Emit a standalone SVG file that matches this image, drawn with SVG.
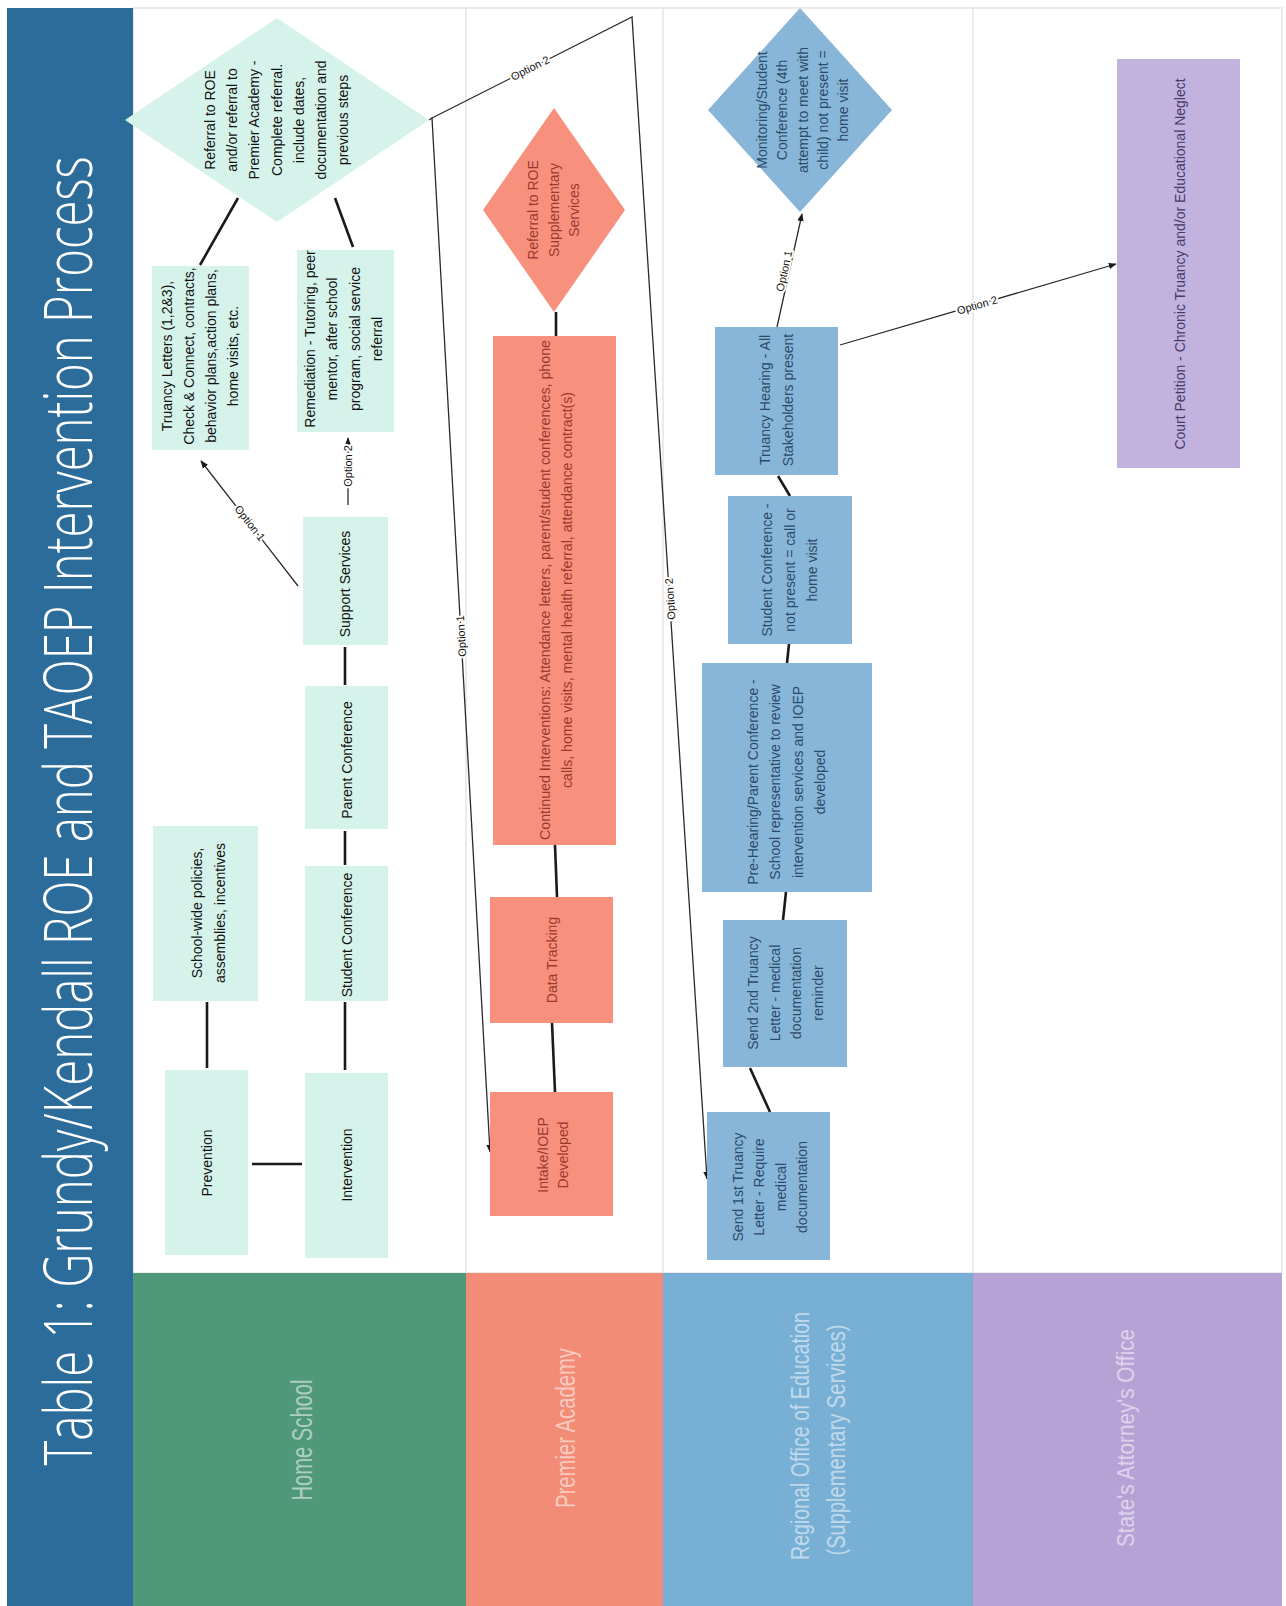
<svg xmlns="http://www.w3.org/2000/svg" width="1286" height="1606" viewBox="0 0 1286 1606">
<defs>
<style>
.t{font-family:"Liberation Sans",Arial,sans-serif;font-size:14px;text-anchor:middle}
.hs{fill:#111}
.pa{fill:#9a3a2e}
.roe{fill:#2c4b68}
.sa{fill:#463a66}
.nHS{fill:#d6f3eb}
.nPA{fill:#f7917e}
.nROE{fill:#88b6d8}
.nSA{fill:#c2b2de}
.hdr{font-family:"Liberation Sans",Arial,sans-serif;fill:#ffffff;fill-opacity:0.55;text-anchor:middle}
.flow{stroke:#1a1a1a;stroke-width:2.6;fill:none}
.opt{stroke:#2a2a2a;stroke-width:1.3;fill:none}
.lbl{font-family:"Liberation Sans",Arial,sans-serif;font-size:11px;fill:#111;text-anchor:middle;stroke:#fff;stroke-width:4px;paint-order:stroke;stroke-linejoin:round}
.sep{stroke:#e4e4e4;stroke-width:1.5}
</style>
<marker id="arr" viewBox="0 0 10 10" refX="9" refY="5" markerWidth="8" markerHeight="8" markerUnits="userSpaceOnUse" orient="auto"><path d="M0,1 L10,5 L0,9 z" fill="#1a1a1a"/></marker>
</defs>

<rect x="0" y="0" width="1286" height="1606" fill="#ffffff"/>

<g id="frame">
<rect x="133" y="8" width="1149" height="1265" fill="#ffffff" stroke="#e4e4e4" stroke-width="1.5"/>
<line class="sep" x1="466" y1="8" x2="466" y2="1273"/>
<line class="sep" x1="663" y1="8" x2="663" y2="1273"/>
<line class="sep" x1="973" y1="8" x2="973" y2="1273"/>
</g>

<g id="title">
<rect x="7" y="8" width="126" height="1598" fill="#2b6c9b"/>
<text transform="translate(92,811) rotate(-90) scale(1,1.444)" font-family="'Open Sans',Lato,sans-serif" font-weight="300" font-size="45.7" fill="#ffffff" text-anchor="middle" textLength="1309" lengthAdjust="spacingAndGlyphs">Table 1: Grundy/Kendall ROE and TAOEP Intervention Process</text>
</g>

<g id="lane-home-school">
<rect x="133" y="1273" width="333" height="333" fill="#4f9879"/>
<text class="hdr" font-size="20.2" transform="translate(312,1440) rotate(-90) scale(1,1.486)" textLength="121" lengthAdjust="spacingAndGlyphs">Home School</text>
</g>
<g id="lane-premier-academy">
<rect x="466" y="1273" width="197" height="333" fill="#f38c77"/>
<text class="hdr" font-size="19.5" transform="translate(575,1428) rotate(-90) scale(1,1.44)" textLength="160" lengthAdjust="spacingAndGlyphs">Premier Academy</text>
</g>
<g id="lane-roe">
<rect x="663" y="1273" width="310" height="333" fill="#78afd5"/>
<text class="hdr" font-size="19.8" transform="translate(809,1436) rotate(-90) scale(1,1.26)" textLength="248" lengthAdjust="spacingAndGlyphs">Regional Office of Education</text>
<text class="hdr" font-size="19.8" transform="translate(845,1440) rotate(-90) scale(1,1.26)" textLength="231" lengthAdjust="spacingAndGlyphs">(Supplementary Services)</text>
</g>
<g id="lane-states-attorney">
<rect x="973" y="1273" width="309" height="333" fill="#b7a2d6"/>
<text class="hdr" font-size="20.5" transform="translate(1134,1438) rotate(-90) scale(1,1.17)" textLength="218" lengthAdjust="spacingAndGlyphs">State's Attorney's Office</text>
</g>

<g id="connectors">
<line class="flow" x1="252" y1="1164" x2="302" y2="1164"/>
<line class="flow" x1="207" y1="1002" x2="207" y2="1068"/>
<line class="flow" x1="345" y1="1002" x2="345" y2="1070"/>
<line class="flow" x1="345" y1="831" x2="345" y2="865"/>
<line class="flow" x1="345" y1="647" x2="345" y2="685"/>
<line class="flow" x1="200" y1="265" x2="238" y2="198"/>
<line class="flow" x1="353" y1="247" x2="335" y2="198"/>
<line class="opt" stroke-width="1.8" x1="298" y1="586" x2="201" y2="461" marker-end="url(#arr)"/>
<text class="lbl" transform="translate(250,523) rotate(52)" dy="4">Option 1</text>
<line class="opt" stroke-width="1.8" x1="348" y1="505" x2="348" y2="438" marker-end="url(#arr)"/>
<text class="lbl" transform="translate(348,466) rotate(-90)" dy="4">Option 2</text>
<polyline class="opt" points="429,120 432,118 490,1152" marker-end="url(#arr)"/>
<text class="lbl" transform="translate(461,636) rotate(-93.2)" dy="4">Option 1</text>
<polyline class="opt" points="432,118 632,17 707,1179" marker-end="url(#arr)"/>
<text class="lbl" transform="translate(530,68) rotate(-26.8)" dy="4">Option 2</text>
<text class="lbl" transform="translate(670,599) rotate(-93.7)" dy="4">Option 2</text>
<line class="flow" x1="556" y1="312" x2="556" y2="336"/>
<line class="flow" x1="555" y1="845" x2="557" y2="897"/>
<line class="flow" x1="552" y1="1023" x2="555" y2="1092"/>
<line class="flow" x1="770" y1="1112" x2="750" y2="1068"/>
<line class="flow" stroke-width="2" x1="783" y1="920" x2="786" y2="892"/>
<line class="flow" stroke-width="2" x1="787" y1="663" x2="789" y2="644"/>
<line class="flow" stroke-width="2" x1="790" y1="496" x2="778" y2="476"/>
<line class="opt" stroke-width="1.8" x1="777" y1="327" x2="802" y2="214" marker-end="url(#arr)"/>
<text class="lbl" transform="translate(784,271) rotate(-77.4)" dy="4">Option 1</text>
<line class="opt" x1="840" y1="345" x2="1116" y2="264" marker-end="url(#arr)"/>
<text class="lbl" transform="translate(977,305) rotate(-16.4)" dy="4">Option 2</text>
</g>

<g id="prevention">
<rect class="nHS" x="165" y="1070" width="83" height="185"/>
<text class="t hs" transform="translate(212,1163) rotate(-90)">Prevention</text>
</g>
<g id="intervention">
<rect class="nHS" x="305" y="1073" width="83" height="185"/>
<text class="t hs" transform="translate(352,1165) rotate(-90)">Intervention</text>
</g>
<g id="school-wide-policies">
<rect class="nHS" x="153" y="826" width="105" height="175"/>
<text class="t hs" transform="translate(202,913) rotate(-90)"><tspan x="0">School-wide policies,</tspan><tspan x="0" dy="23">assemblies, incentives</tspan></text>
</g>
<g id="student-conference">
<rect class="nHS" x="305" y="866" width="83" height="135"/>
<text class="t hs" transform="translate(352,935) rotate(-90)">Student Conference</text>
</g>
<g id="parent-conference">
<rect class="nHS" x="305" y="686" width="83" height="143"/>
<text class="t hs" transform="translate(352,760) rotate(-90)">Parent Conference</text>
</g>
<g id="support-services">
<rect class="nHS" x="303" y="517" width="85" height="128"/>
<text class="t hs" transform="translate(350,584) rotate(-90)">Support Services</text>
</g>
<g id="truancy-letters">
<rect class="nHS" x="152" y="266" width="97" height="184"/>
<text class="t hs" transform="translate(172,356) rotate(-90)"><tspan x="0">Truancy Letters (1,2&amp;3),</tspan><tspan x="0" dy="22">Check &amp; Connect, contracts,</tspan><tspan x="0" dy="22">behavior plans,action plans,</tspan><tspan x="0" dy="22">home visits, etc.</tspan></text>
</g>
<g id="remediation">
<rect class="nHS" x="297" y="250" width="97" height="182"/>
<text class="t hs" transform="translate(315,339) rotate(-90)"><tspan x="0">Remediation - Tutoring, peer</tspan><tspan x="0" dy="22.3">mentor, after school</tspan><tspan x="0" dy="22.3">program, social service</tspan><tspan x="0" dy="22.3">referral</tspan></text>
</g>
<g id="referral-roe-premier">
<polygon class="nHS" points="125,120 277,18 429,120 277,222"/>
<text class="t hs" transform="translate(215,120) rotate(-90)"><tspan x="0">Referral to ROE</tspan><tspan x="0" dy="22.2">and/or referral to</tspan><tspan x="0" dy="22.2">Premier Academy -</tspan><tspan x="0" dy="22.2">Complete referral.</tspan><tspan x="0" dy="22.2">include dates,</tspan><tspan x="0" dy="22.2">documentation and</tspan><tspan x="0" dy="22.2">previous steps</tspan></text>
</g>

<g id="referral-roe-supplementary">
<polygon class="nPA" points="483,210 554,108 625,210 554,312"/>
<text class="t pa" transform="translate(538,210) rotate(-90)"><tspan x="0">Referral to ROE</tspan><tspan x="0" dy="20.5">Supplementary</tspan><tspan x="0" dy="20.5">Services</tspan></text>
</g>
<g id="continued-interventions">
<rect class="nPA" x="493" y="336" width="123" height="509"/>
<text class="t pa" transform="translate(550,590) rotate(-90)"><tspan x="0" textLength="500" lengthAdjust="spacingAndGlyphs">Continued Interventions: Attendance letters, parent/student conferences, phone</tspan><tspan x="0" dy="22" textLength="396" lengthAdjust="spacingAndGlyphs">calls, home visits, mental health referral, attendance contract(s)</tspan></text>
</g>
<g id="data-tracking">
<rect class="nPA" x="490" y="897" width="123" height="126"/>
<text class="t pa" transform="translate(557,960) rotate(-90)">Data Tracking</text>
</g>
<g id="intake-ioep">
<rect class="nPA" x="490" y="1092" width="123" height="124"/>
<text class="t pa" transform="translate(548,1155) rotate(-90)"><tspan x="0">Intake/IOEP</tspan><tspan x="0" dy="20">Developed</tspan></text>
</g>

<g id="monitoring-student-conference">
<polygon class="nROE" points="708,110 800,8 892,110 800,212"/>
<text class="t roe" transform="translate(767,110) rotate(-90)"><tspan x="0">Monitoring/Student</tspan><tspan x="0" dy="20.3">Conference (4th</tspan><tspan x="0" dy="20.3">attempt to meet with</tspan><tspan x="0" dy="20.3">child) not present =</tspan><tspan x="0" dy="20.3">home visit</tspan></text>
</g>
<g id="truancy-hearing">
<rect class="nROE" x="715" y="327" width="123" height="148"/>
<text class="t roe" transform="translate(770,400) rotate(-90)"><tspan x="0">Truancy Hearing - All</tspan><tspan x="0" dy="23">Stakeholders present</tspan></text>
</g>
<g id="student-conference-roe">
<rect class="nROE" x="728" y="496" width="124" height="148"/>
<text class="t roe" transform="translate(772,570) rotate(-90)"><tspan x="0">Student Conference -</tspan><tspan x="0" dy="22.5">not present = call or</tspan><tspan x="0" dy="22.5">home visit</tspan></text>
</g>
<g id="pre-hearing">
<rect class="nROE" x="702" y="663" width="170" height="229"/>
<text class="t roe" transform="translate(758,782) rotate(-90)"><tspan x="0">Pre-Hearing/Parent Conference -</tspan><tspan x="0" dy="22.3">School representative to review</tspan><tspan x="0" dy="22.3">intervention services and IOEP</tspan><tspan x="0" dy="22.3">developed</tspan></text>
</g>
<g id="send-2nd-letter">
<rect class="nROE" x="723" y="920" width="124" height="147"/>
<text class="t roe" transform="translate(758,993) rotate(-90)"><tspan x="0">Send 2nd Truancy</tspan><tspan x="0" dy="21.7">Letter - medical</tspan><tspan x="0" dy="21.7">documentation</tspan><tspan x="0" dy="21.7">reminder</tspan></text>
</g>
<g id="send-1st-letter">
<rect class="nROE" x="707" y="1112" width="123" height="148"/>
<text class="t roe" transform="translate(743,1187) rotate(-90)"><tspan x="0">Send 1st Truancy</tspan><tspan x="0" dy="21.3">Letter - Require</tspan><tspan x="0" dy="21.3">medical</tspan><tspan x="0" dy="21.3">documentation</tspan></text>
</g>

<g id="court-petition">
<rect class="nSA" x="1117" y="59" width="123" height="409"/>
<text class="t sa" transform="translate(1185,264) rotate(-90)">Court Petition - Chronic Truancy and/or Educational Neglect</text>
</g>
</svg>
